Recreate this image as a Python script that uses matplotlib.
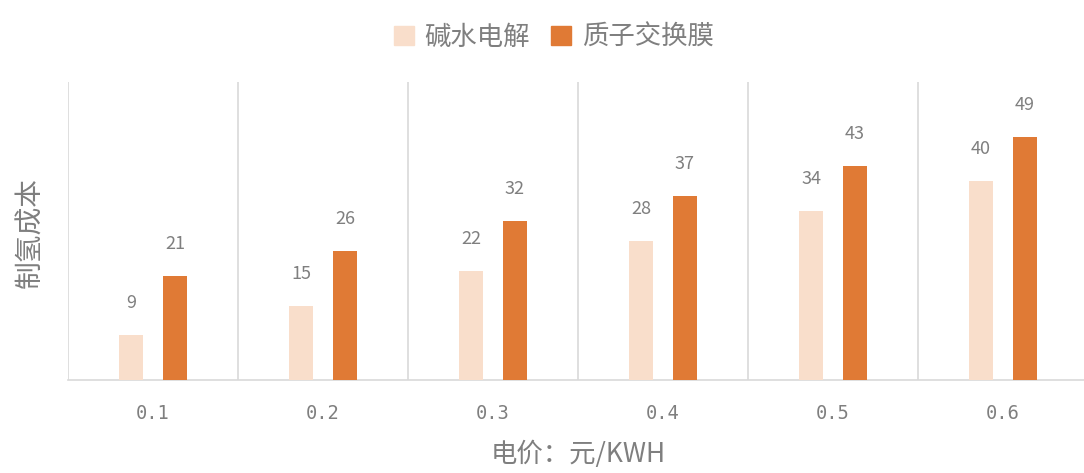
import matplotlib
matplotlib.use("Agg")
import matplotlib.pyplot as plt
from matplotlib.patches import Patch
import numpy as np

plt.rcParams['font.family'] = ['Noto Sans CJK SC', 'DejaVu Sans']

categories = ["0.1", "0.2", "0.3", "0.4", "0.5", "0.6"]
alkaline = [9, 15, 22, 28, 34, 40]
pem = [21, 26, 32, 37, 43, 49]
series_names = ["碱水电解", "质子交换膜"]

c_light = "#F9DECB"
c_dark = "#E07A35"
grey = "#7F7F7F"
line_grey = "#D9D9D9"

fig = plt.figure(figsize=(10.84, 4.73), dpi=100)
ax = fig.add_axes([68/1084, 93/473, 1020/1084, 298/473])

x = np.arange(len(categories))
w = 0.141
off = 0.129
b1 = ax.bar(x - off, alkaline, width=w, color=c_light, zorder=3)
b2 = ax.bar(x + off, pem, width=w, color=c_dark, zorder=3)

for bars, vals in ((b1, alkaline), (b2, pem)):
    for r, v in zip(bars, vals):
        ax.annotate(str(v), (r.get_x() + r.get_width()/2, r.get_height()),
                    xytext=(0, 23), textcoords='offset points',
                    ha='center', va='center', fontsize=13, color=grey)

ax.set_xlim(-0.5, len(categories) - 0.5)
ax.set_ylim(0, 60)
for xi in np.arange(-0.5, len(categories), 1.0):
    ax.axvline(xi, color=line_grey, lw=1.2, zorder=1)

for s in ['top', 'right', 'left']:
    ax.spines[s].set_visible(False)
ax.spines['bottom'].set_color(line_grey)
ax.spines['bottom'].set_linewidth(1.2)
ax.set_yticks([])
ax.set_xticks(x)
ax.set_xticklabels(categories, fontsize=13.5, color=grey)
for t in ax.get_xticklabels():
    t.set_fontfamily(['DejaVu Sans Mono', 'DejaVu Sans'])
ax.tick_params(axis='x', length=0, pad=17)
ax.set_xlabel("电价：元/KWH", fontsize=19, color=grey, labelpad=13)

fig.text(30/1084, 1 - 233/473, "制氢成本", rotation=90, ha='center', va='center',
         fontsize=20, color=grey)

handles = [Patch(color=c_light), Patch(color=c_dark)]
fig.legend(handles, series_names, loc='upper center', bbox_to_anchor=(0.511, 1.0),
           ncol=2, frameon=False, fontsize=19, labelcolor=grey,
           handlelength=0.75, handleheight=0.75, handletextpad=0.4, columnspacing=0.8)

fig.savefig("out.png", dpi=100)
